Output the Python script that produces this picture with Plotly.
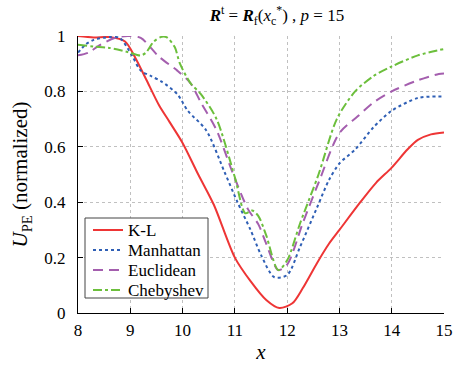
import plotly.graph_objects as go

# K-L
kl_x = [8, 8.3, 8.6, 8.9, 9.1, 9.3, 9.55, 9.75, 10.0, 10.3, 10.6, 11.0, 11.3, 11.6, 11.85,
        12.1, 12.3, 12.57, 12.8, 13.0, 13.4, 13.7, 14.0, 14.3, 14.5, 14.75, 15]
kl_y = [1.0, 0.995, 0.996, 0.98, 0.92, 0.845, 0.75, 0.69, 0.614, 0.50, 0.39, 0.20, 0.115, 0.047, 0.018,
        0.035, 0.09, 0.18, 0.25, 0.30, 0.40, 0.47, 0.525, 0.59, 0.625, 0.645, 0.652]

# Manhattan
man_x = [8, 8.15, 8.3, 8.6, 8.8, 9.03, 9.2, 9.4, 9.6, 9.9, 10.1, 10.45, 10.8, 11.05, 11.3, 11.5,
         11.75, 12.0, 12.25, 12.57, 12.8, 13.0, 13.3, 13.65, 14.0, 14.5, 15]
man_y = [0.94, 0.97, 0.986, 0.996, 0.993, 0.93, 0.875, 0.855, 0.835, 0.79, 0.73, 0.66, 0.51, 0.40, 0.30, 0.21,
         0.13, 0.137, 0.24, 0.38, 0.48, 0.54, 0.59, 0.67, 0.73, 0.776, 0.782]

# Euclidean
euc_x = [8, 8.2, 8.4, 8.7, 8.95, 9.2, 9.55, 9.9, 10.15, 10.35, 10.65, 10.95, 11.25, 11.45, 11.6,
         11.83, 12.0, 12.3, 12.6, 13.0, 13.35, 13.65, 14.0, 14.5, 14.9, 15]
euc_y = [0.93, 0.94, 0.965, 0.993, 1.0, 0.993, 0.925, 0.875, 0.83, 0.76, 0.66, 0.51, 0.375, 0.32, 0.25,
         0.155, 0.175, 0.325, 0.47, 0.65, 0.71, 0.76, 0.80, 0.84, 0.863, 0.865]

# Chebyshev
che_x = [8, 8.3, 8.6, 8.95, 9.2, 9.3, 9.45, 9.6, 9.7, 9.85, 9.95, 10.15, 10.35, 10.65, 11.0, 11.2,
         11.33, 11.45, 11.6, 11.83, 12.0, 12.25, 12.6, 12.95, 13.3, 13.65, 14.0, 14.5, 15]
che_y = [0.968, 0.962, 0.957, 0.942, 0.93, 0.94, 0.98, 0.997, 0.995, 0.96, 0.90, 0.83, 0.79, 0.70, 0.49, 0.36,
         0.37, 0.35, 0.28, 0.155, 0.19, 0.325, 0.50, 0.70, 0.80, 0.855, 0.89, 0.93, 0.953]

series_names = ["K-L", "Manhattan", "Euclidean", "Chebyshev"]
x_ticks = [8, 9, 10, 11, 12, 13, 14, 15]
y_ticks = [0, 0.2, 0.4, 0.6, 0.8, 1]

FONT = "Liberation Serif"
W, H = 454, 372
ML, MR, MT, MB = 78, 10, 36, 59
PW, PH = W - ML - MR, H - MT - MB


def px2paper(px, py):
    return (px - ML) / PW, (H - MB - py) / PH


fig = go.Figure()
styles = [("#ee3535", "solid"), ("#2f5fb5", "dot"), ("#a45eae", "10px,6px"), ("#6cbf3c", "dashdot")]
data = [(kl_x, kl_y), (man_x, man_y), (euc_x, euc_y), (che_x, che_y)]
for name, (xs, ys), (col, dash) in zip(series_names, data, styles):
    fig.add_trace(go.Scatter(x=xs, y=ys, name=name, mode="lines", showlegend=False,
                             line=dict(color=col, width=2, dash=dash, shape="spline", smoothing=0.8)))

# hand-drawn legend box (matches reference compact layout)
x0, y1 = px2paper(85, 218)
x1, y0 = px2paper(208, 298)
fig.add_shape(type="rect", xref="paper", yref="paper", x0=x0, x1=x1, y0=y0, y1=y1,
              line=dict(color="#444444", width=1), fillcolor="white", layer="above")
row_py = [230, 250, 270, 290]
for name, (col, dash), py in zip(series_names, styles, row_py):
    lx0, ly = px2paper(93, py)
    lx1, _ = px2paper(123, py)
    tx, _ = px2paper(126, py)
    fig.add_shape(type="line", xref="paper", yref="paper", x0=lx0, x1=lx1, y0=ly, y1=ly,
                  line=dict(color=col, width=2, dash=dash), layer="above")
    fig.add_annotation(xref="paper", yref="paper", x=tx, y=ly, text=name, showarrow=False,
                       xanchor="left", yanchor="middle", font=dict(family=FONT, size=17, color="black"))

fig.update_layout(
    width=W, height=H,
    margin=dict(l=ML, r=MR, t=MT, b=MB, autoexpand=False),
    paper_bgcolor="white", plot_bgcolor="white",
    font=dict(family=FONT, size=16, color="black"),
    title=dict(text="<b><i>R</i></b><sup>t</sup> = <b><i>R</i></b><sub>f</sub>(<i>x</i><sub>c</sub><sup>*</sup>) , <i>p</i> = 15",
               x=0.61, xanchor="center", y=0.975, yanchor="top",
               font=dict(family=FONT, size=17)),
    showlegend=False,
)
fig.update_xaxes(range=[8, 15], tickvals=x_ticks, ticks="inside", ticklen=5, tickcolor="black",
                 showline=True, linecolor="black", linewidth=1, automargin=False, ticklabelstandoff=2,
                 showgrid=True, gridcolor="#c0c0c0", griddash="dot", gridwidth=1, zeroline=False,
                 title=dict(text="<i>x</i>", font=dict(family=FONT, size=21), standoff=4),
                 tickfont=dict(family=FONT, size=17))
fig.update_yaxes(range=[0, 1], tickvals=y_ticks, ticks="inside", ticklen=5, tickcolor="black",
                 showline=True, linecolor="black", linewidth=1, automargin=False, ticklabelstandoff=8,
                 showgrid=True, gridcolor="#c0c0c0", griddash="dot", gridwidth=1, zeroline=False,
                 title=dict(text="<i>U</i><sub>PE</sub> (normalized)", font=dict(family=FONT, size=21), standoff=10),
                 tickfont=dict(family=FONT, size=17))

fig.write_html("out.html", config={"displayModeBar": False})
with open("out.html") as fh:
    s = fh.read()
s = s.replace("<head>", "<head><style>body{margin:0;}</style>", 1)
with open("out.html", "w") as fh:
    fh.write(s)
